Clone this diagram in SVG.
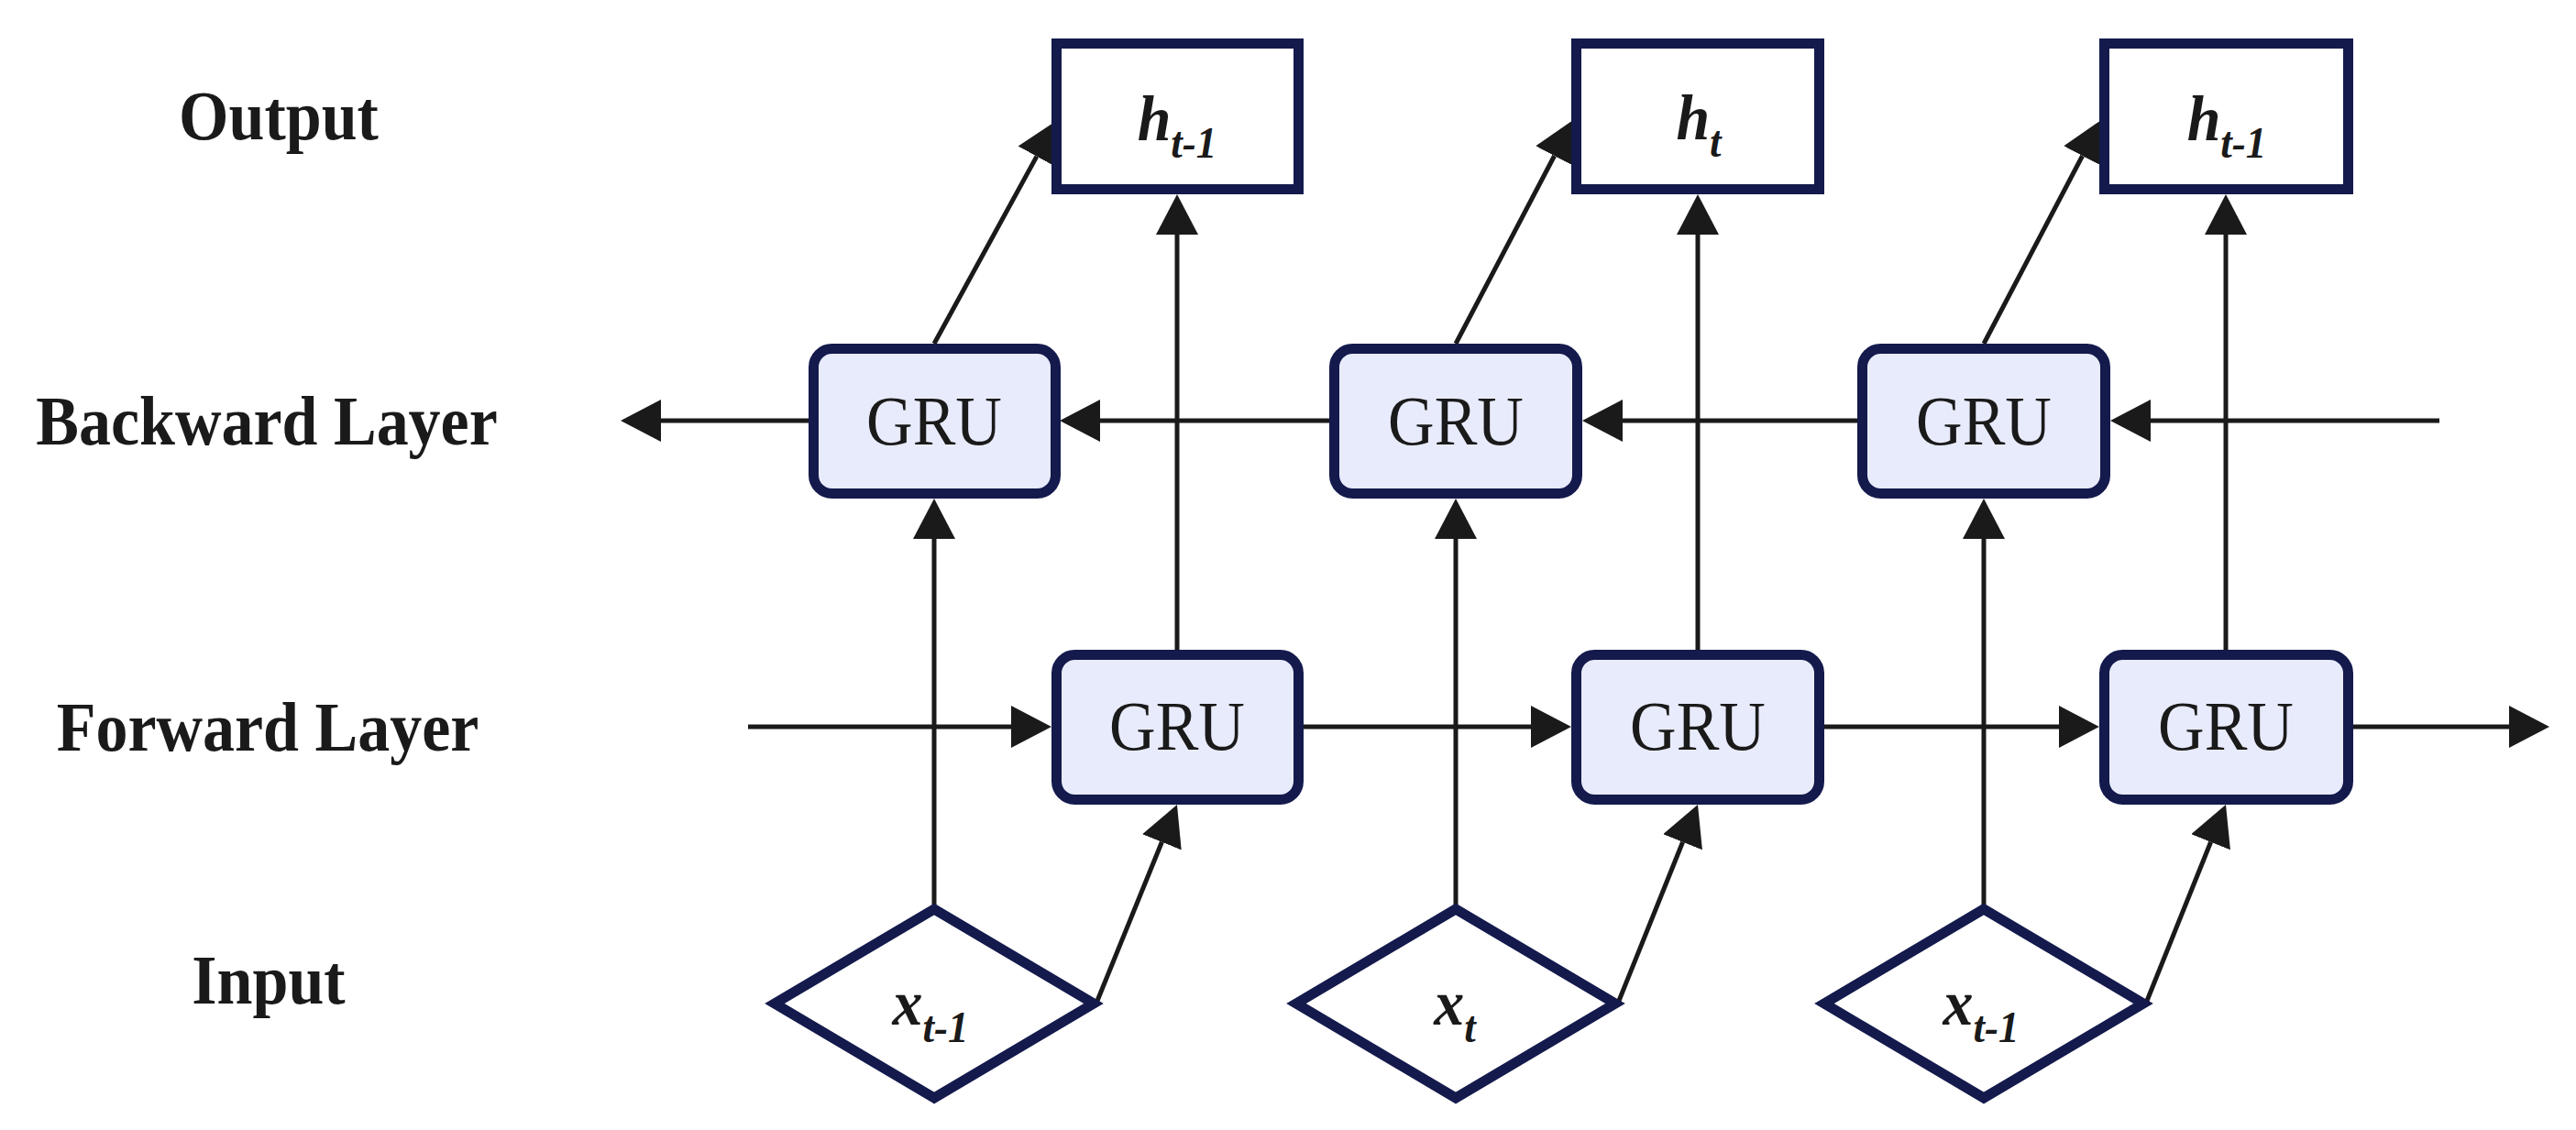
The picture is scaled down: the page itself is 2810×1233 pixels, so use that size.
<svg xmlns="http://www.w3.org/2000/svg" width="2810" height="1233" viewBox="0 0 2810 1233">
<style>
.lbl{font-family:"Liberation Serif","Times New Roman",serif;font-weight:bold;font-size:70px;fill:#1a1a1a;text-anchor:middle}
.gru{fill:#e8ebfb;stroke:#141a4c;stroke-width:11}
.out{fill:#ffffff;stroke:#141a4c;stroke-width:11}
.inp{fill:#ffffff;stroke:#141a4c;stroke-width:11;stroke-linejoin:miter;stroke-miterlimit:10}
.gt{font-family:"Liberation Serif","Times New Roman",serif;font-size:70px;fill:#1a1a1a;text-anchor:middle}
.var{font-family:"Liberation Serif","Times New Roman",serif;font-weight:bold;font-style:italic;font-size:66px;fill:#1a1a1a;text-anchor:middle}
.sub{font-size:45px}
.ln{fill:none;stroke:#1a1a1a;stroke-width:5;marker-end:url(#ah)}
</style>
<defs>
<marker id="ah" viewBox="0 0 44 46" refX="0" refY="23" markerWidth="44" markerHeight="46" markerUnits="userSpaceOnUse" orient="auto">
<path d="M0,0 L44,23 L0,46 Z" fill="#1a1a1a"/>
</marker>
</defs>

<g id="row-labels">
<text class="lbl" transform="translate(304,152) scale(1,1.08)">Output</text>
<text class="lbl" transform="translate(291,485) scale(1,1.08)">Backward Layer</text>
<text class="lbl" transform="translate(292,819) scale(1,1.08)">Forward Layer</text>
<text class="lbl" transform="translate(293,1095) scale(1,1.08)">Input</text>
</g>

<g id="connectors">
<line class="ln" x1="2661" y1="459" x2="2346" y2="459"/>
<line class="ln" x1="2026" y1="459" x2="1770" y2="459"/>
<line class="ln" x1="1450" y1="459" x2="1200" y2="459"/>
<line class="ln" x1="882" y1="459" x2="721" y2="459"/>
<line class="ln" x1="816" y1="793" x2="1103" y2="793"/>
<line class="ln" x1="1422" y1="793" x2="1670" y2="793"/>
<line class="ln" x1="1990" y1="793" x2="2246" y2="793"/>
<line class="ln" x1="2567" y1="793" x2="2737" y2="793"/>
<line class="ln" x1="1019" y1="988" x2="1019" y2="588"/>
<line class="ln" x1="1588" y1="988" x2="1588" y2="588"/>
<line class="ln" x1="2164" y1="988" x2="2164" y2="588"/>
<line class="ln" x1="1284" y1="709" x2="1284" y2="256"/>
<line class="ln" x1="1852" y1="709" x2="1852" y2="256"/>
<line class="ln" x1="2428" y1="709" x2="2428" y2="256"/>
<line class="ln" x1="1019" y1="375" x2="1130.9" y2="170.6"/>
<line class="ln" x1="1588" y1="375" x2="1695.6" y2="170"/>
<line class="ln" x1="2164" y1="375" x2="2271.6" y2="170"/>
<line class="ln" x1="1197" y1="1092" x2="1267.4" y2="918.8"/>
<line class="ln" x1="1766" y1="1092" x2="1835.6" y2="918.8"/>
<line class="ln" x1="2342" y1="1092" x2="2411.6" y2="918.8"/>
</g>

<g id="out1"><rect class="out" x="1152.5" y="47.5" width="264" height="159"/><text class="var" transform="translate(1284,153) scale(1,1.06)">h<tspan class="sub" dy="18">t-1</tspan></text></g>
<g id="out2"><rect class="out" x="1719.5" y="47.5" width="265" height="159"/><text class="var" transform="translate(1853,152) scale(1,1.06)">h<tspan class="sub" dy="18">t</tspan></text></g>
<g id="out3"><rect class="out" x="2295.5" y="47.5" width="266" height="159"/><text class="var" transform="translate(2429,153) scale(1,1.06)">h<tspan class="sub" dy="18">t-1</tspan></text></g>

<g id="bgru1"><rect class="gru" x="887.5" y="380.5" width="264" height="158" rx="20"/><text class="gt" transform="translate(1019,485) scale(1,1.08)">GRU</text></g>
<g id="bgru2"><rect class="gru" x="1455.5" y="380.5" width="265" height="158" rx="20"/><text class="gt" transform="translate(1588,485) scale(1,1.08)">GRU</text></g>
<g id="bgru3"><rect class="gru" x="2031.5" y="380.5" width="265" height="158" rx="20"/><text class="gt" transform="translate(2164,485) scale(1,1.08)">GRU</text></g>

<g id="fgru1"><rect class="gru" x="1152.5" y="714.5" width="264" height="158" rx="20"/><text class="gt" transform="translate(1284,818) scale(1,1.08)">GRU</text></g>
<g id="fgru2"><rect class="gru" x="1719.5" y="714.5" width="265" height="158" rx="20"/><text class="gt" transform="translate(1852,818) scale(1,1.08)">GRU</text></g>
<g id="fgru3"><rect class="gru" x="2295.5" y="714.5" width="266" height="158" rx="20"/><text class="gt" transform="translate(2428,818) scale(1,1.08)">GRU</text></g>

<g id="in1"><path class="inp" d="M1019,992 L1193,1095 L1019,1198 L845,1095 Z"/><text class="var" transform="translate(1015,1118) scale(1,1.06)">x<tspan class="sub" dy="18">t-1</tspan></text></g>
<g id="in2"><path class="inp" d="M1588,992 L1762,1095 L1588,1198 L1414,1095 Z"/><text class="var" transform="translate(1587,1118) scale(1,1.06)">x<tspan class="sub" dy="18">t</tspan></text></g>
<g id="in3"><path class="inp" d="M2164,992 L2338,1095 L2164,1198 L1990,1095 Z"/><text class="var" transform="translate(2161,1118) scale(1,1.06)">x<tspan class="sub" dy="18">t-1</tspan></text></g>
</svg>
